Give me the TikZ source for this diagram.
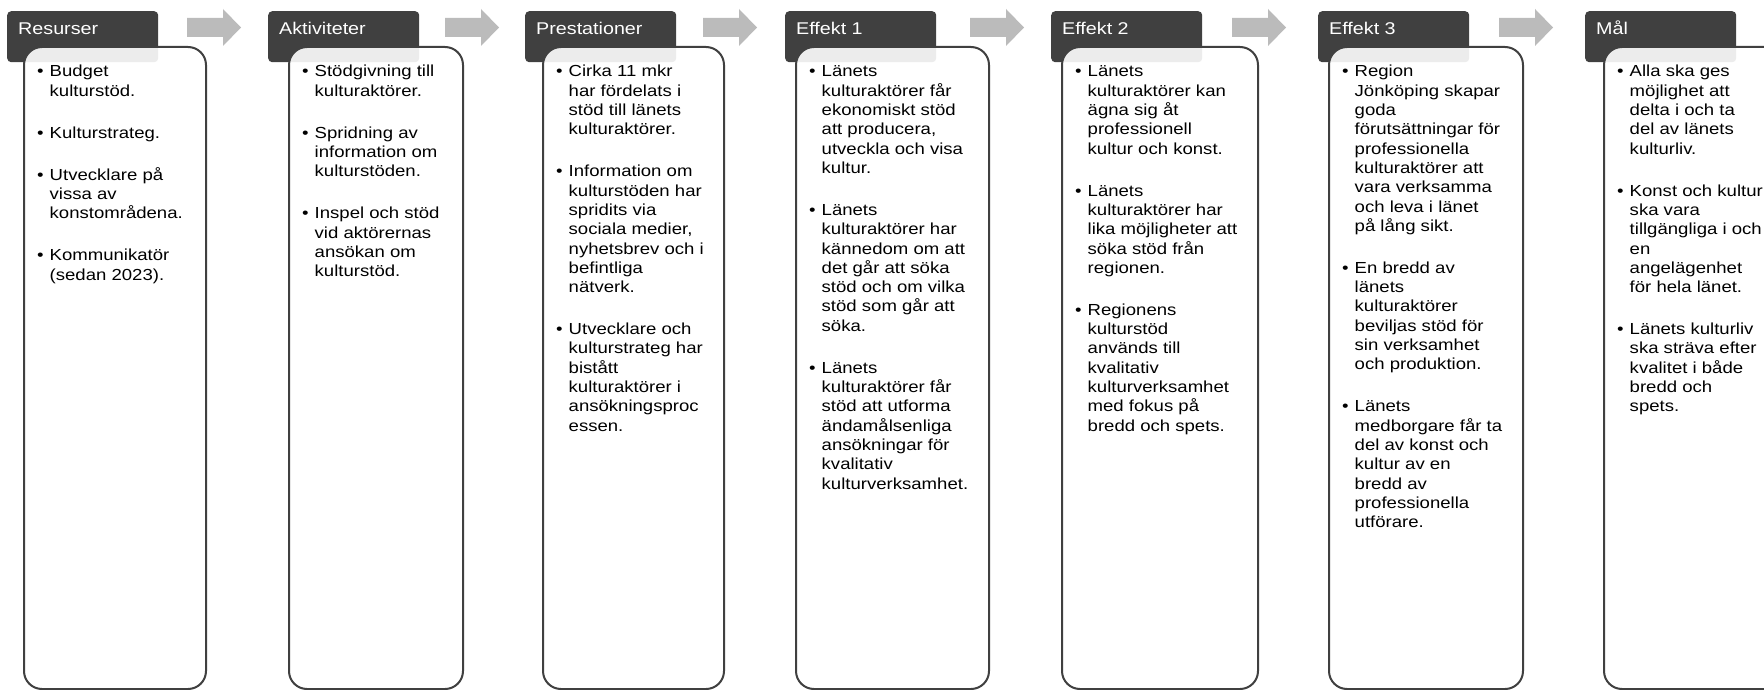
\documentclass[tikz,border=0pt]{standalone}
\usepackage{fontspec}
\setmainfont{Liberation Sans}[FakeStretch=1.16]
\definecolor{headgray}{HTML}{404040}
\definecolor{linegray}{HTML}{404040}
\definecolor{arrowgray}{HTML}{BBBBBB}
\newcommand{\bu}{\makebox[12.5pt][l]{•}}
\tikzset{
  headbox/.style={draw=none, fill=headgray, rounded corners=4pt, anchor=north west,
    minimum width=151pt, minimum height=51pt, inner sep=0pt},
  headtext/.style={anchor=base west, inner sep=0pt, text=white,
    font=\fontsize{17}{20}\selectfont},
  bodybox/.style={draw=linegray, line width=2pt, fill=white, fill opacity=0.9,
    draw opacity=1, rounded corners=18pt, anchor=north west,
    minimum height=642pt, inner sep=0pt},
  bodytext/.style={anchor=base west, inner sep=0pt, text=black,
    font=\fontsize{16}{19.3}\selectfont},
  bigarrow/.pic={\fill[arrowgray] (0,-9.5) -- (36,-9.5) -- (36,-18.5) -- (54,0)
    -- (36,18.5) -- (36,9.5) -- (0,9.5) -- cycle;}
}
\begin{document}
\begin{tikzpicture}[x=1pt, y=-1pt]
\useasboundingbox (0,0) rectangle (1764,690);
\fill[white] (0,0) rectangle (1764,690);

% headers
\node[headbox] (h1) at (7,11) {};
\node[headbox] (h2) at (268,11) {};
\node[headbox] (h3) at (525,11) {};
\node[headbox] (h4) at (785,11) {};
\node[headbox] (h5) at (1051,11) {};
\node[headbox] (h6) at (1318,11) {};
\node[headbox] (h7) at (1585,11) {};

% arrows
\pic at (187,27.5) {bigarrow};
\pic at (445,27.5) {bigarrow};
\pic at (703,27.5) {bigarrow};
\pic at (970,27.5) {bigarrow};
\pic at (1232,27.5) {bigarrow};
\pic at (1499,27.5) {bigarrow};

% bodies
\node[bodybox, minimum width=182pt] (b1) at (23,46) {};
\node[bodybox, minimum width=174pt] (b2) at (288,46) {};
\node[bodybox, minimum width=181pt] (b3) at (542,46) {};
\node[bodybox, minimum width=193pt] (b4) at (795,46) {};
\node[bodybox, minimum width=196pt] (b5) at (1061,46) {};
\node[bodybox, minimum width=194pt] (b6) at (1328,46) {};
\node[bodybox, minimum width=200pt] (b7) at (1603,46) {};

% header texts
\node[headtext] (ht1) at (18,35) {Resurser};
\node[headtext] (ht2) at (279,35) {Aktiviteter};
\node[headtext] (ht3) at (536,35) {Prestationer};
\node[headtext] (ht4) at (796,35) {Effekt 1};
\node[headtext] (ht5) at (1062,35) {Effekt 2};
\node[headtext] (ht6) at (1329,35) {Effekt 3};
\node[headtext] (ht7) at (1596,35) {Mål};

% body texts
\node[bodytext] (t1) at (37,77) {\begin{tabular}[t]{@{}l@{}l@{}}
\bu & Budget\\ & kulturstöd.\\[22.7pt]
\bu & Kulturstrateg.\\[22.7pt]
\bu & Utvecklare på\\ & vissa av\\ & konstområdena.\\[22.7pt]
\bu & Kommunikatör\\ & (sedan 2023).
\end{tabular}};

\node[bodytext] (t2) at (302,77) {\begin{tabular}[t]{@{}l@{}l@{}}
\bu & Stödgivning till\\ & kulturaktörer.\\[22.7pt]
\bu & Spridning av\\ & information om\\ & kulturstöden.\\[22.7pt]
\bu & Inspel och stöd\\ & vid aktörernas\\ & ansökan om\\ & kulturstöd.
\end{tabular}};

\node[bodytext] (t3) at (556,77) {\begin{tabular}[t]{@{}l@{}l@{}}
\bu & Cirka 11 mkr\\ & har fördelats i\\ & stöd till länets\\ & kulturaktörer.\\[22.7pt]
\bu & Information om\\ & kulturstöden har\\ & spridits via\\ & sociala medier,\\ & nyhetsbrev och i\\ & befintliga\\ & nätverk.\\[22.7pt]
\bu & Utvecklare och\\ & kulturstrateg har\\ & bistått\\ & kulturaktörer i\\ & ansökningsproc\\ & essen.
\end{tabular}};

\node[bodytext] (t4) at (809,77) {\begin{tabular}[t]{@{}l@{}l@{}}
\bu & Länets\\ & kulturaktörer får\\ & ekonomiskt stöd\\ & att producera,\\ & utveckla och visa\\ & kultur.\\[22.7pt]
\bu & Länets\\ & kulturaktörer har\\ & kännedom om att\\ & det går att söka\\ & stöd och om vilka\\ & stöd som går att\\ & söka.\\[22.7pt]
\bu & Länets\\ & kulturaktörer får\\ & stöd att utforma\\ & ändamålsenliga\\ & ansökningar för\\ & kvalitativ\\ & kulturverksamhet.
\end{tabular}};

\node[bodytext] (t5) at (1075,77) {\begin{tabular}[t]{@{}l@{}l@{}}
\bu & Länets\\ & kulturaktörer kan\\ & ägna sig åt\\ & professionell\\ & kultur och konst.\\[22.7pt]
\bu & Länets\\ & kulturaktörer har\\ & lika möjligheter att\\ & söka stöd från\\ & regionen.\\[22.7pt]
\bu & Regionens\\ & kulturstöd\\ & används till\\ & kvalitativ\\ & kulturverksamhet\\ & med fokus på\\ & bredd och spets.
\end{tabular}};

\node[bodytext] (t6) at (1342,77) {\begin{tabular}[t]{@{}l@{}l@{}}
\bu & Region\\ & Jönköping skapar\\ & goda\\ & förutsättningar för\\ & professionella\\ & kulturaktörer att\\ & vara verksamma\\ & och leva i länet\\ & på lång sikt.\\[22.7pt]
\bu & En bredd av\\ & länets\\ & kulturaktörer\\ & beviljas stöd för\\ & sin verksamhet\\ & och produktion.\\[22.7pt]
\bu & Länets\\ & medborgare får ta\\ & del av konst och\\ & kultur av en\\ & bredd av\\ & professionella\\ & utförare.
\end{tabular}};

\node[bodytext] (t7) at (1617,77) {\begin{tabular}[t]{@{}l@{}l@{}}
\bu & Alla ska ges\\ & möjlighet att\\ & delta i och ta\\ & del av länets\\ & kulturliv.\\[22.7pt]
\bu & Konst och kultur\\ & ska vara\\ & tillgängliga i och\\ & en\\ & angelägenhet\\ & för hela länet.\\[22.7pt]
\bu & Länets kulturliv\\ & ska sträva efter\\ & kvalitet i både\\ & bredd och\\ & spets.
\end{tabular}};
\end{tikzpicture}
\end{document}
